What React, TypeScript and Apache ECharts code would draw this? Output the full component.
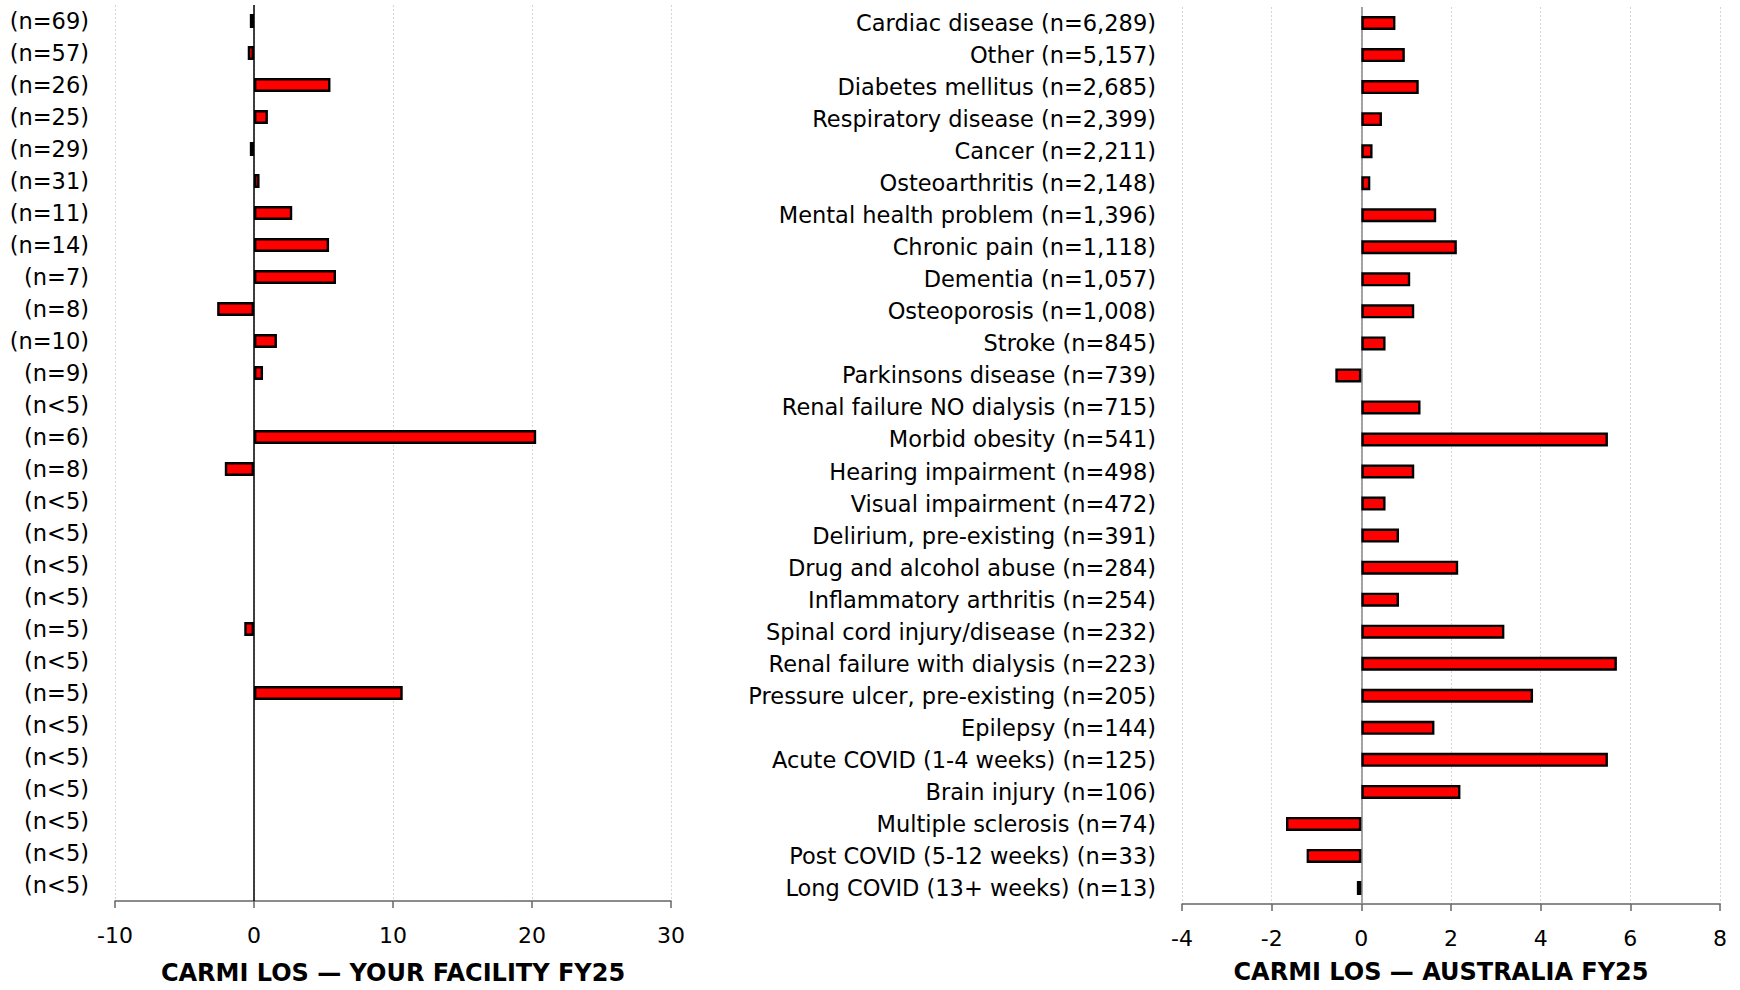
import React, { useEffect, useRef } from "react";
import * as echarts from "echarts";

// Left panel: facility comorbidity counts and CARMI LOS values (null where n<5)
const facilityLabels = [
  "(n=69)", "(n=57)", "(n=26)", "(n=25)", "(n=29)", "(n=31)", "(n=11)",
  "(n=14)", "(n=7)", "(n=8)", "(n=10)", "(n=9)", "(n<5)", "(n=6)",
  "(n=8)", "(n<5)", "(n<5)", "(n<5)", "(n<5)", "(n=5)", "(n<5)",
  "(n=5)", "(n<5)", "(n<5)", "(n<5)", "(n<5)", "(n<5)", "(n<5)",
];
const facilityValues: (number | null)[] = [
  -0.3, -0.45, 5.5, 1.0, -0.3, 0.4, 2.75,
  5.4, 5.9, -2.65, 1.65, 0.65, null, 20.3,
  -2.1, null, null, null, null, -0.7, null,
  10.7, null, null, null, null, null, null,
];

// Right panel: national comorbidity categories and CARMI LOS values
const australiaLabels = [
  "Cardiac disease (n=6,289)",
  "Other (n=5,157)",
  "Diabetes mellitus (n=2,685)",
  "Respiratory disease (n=2,399)",
  "Cancer (n=2,211)",
  "Osteoarthritis (n=2,148)",
  "Mental health problem (n=1,396)",
  "Chronic pain (n=1,118)",
  "Dementia (n=1,057)",
  "Osteoporosis (n=1,008)",
  "Stroke (n=845)",
  "Parkinsons disease (n=739)",
  "Renal failure NO dialysis (n=715)",
  "Morbid obesity (n=541)",
  "Hearing impairment (n=498)",
  "Visual impairment (n=472)",
  "Delirium, pre-existing (n=391)",
  "Drug and alcohol abuse (n=284)",
  "Inflammatory arthritis (n=254)",
  "Spinal cord injury/disease (n=232)",
  "Renal failure with dialysis (n=223)",
  "Pressure ulcer, pre-existing (n=205)",
  "Epilepsy (n=144)",
  "Acute COVID (1-4 weeks) (n=125)",
  "Brain injury (n=106)",
  "Multiple sclerosis (n=74)",
  "Post COVID (5-12 weeks) (n=33)",
  "Long COVID (13+ weeks) (n=13)",
];
const australiaValues = [
  0.76, 0.97, 1.28, 0.46, 0.25, 0.2, 1.67,
  2.13, 1.09, 1.18, 0.54, -0.58, 1.32, 5.5,
  1.18, 0.54, 0.84, 2.16, 0.84, 3.19, 5.7,
  3.83, 1.63, 5.5, 2.21, -1.68, -1.22, -0.1,
];

const facilityTitle = "CARMI LOS \u2014 YOUR FACILITY FY25";
const australiaTitle = "CARMI LOS \u2014 AUSTRALIA FY25";

const FONT = "DejaVu Sans";

function valueAxis(gridIndex: number, min: number, max: number, interval: number, name: string, gap: number, pad: number[]) {
  return {
    type: "value",
    gridIndex,
    min,
    max,
    interval,
    name,
    nameLocation: "middle",
    nameGap: gap,
    nameTextStyle: {
      fontFamily: FONT,
      fontSize: 24,
      fontWeight: "bold",
      color: "#000",
      padding: pad,
    },
    axisLine: { show: true, lineStyle: { color: "#666", width: 1.5 } },
    axisTick: { show: true, length: 7, lineStyle: { color: "#666", width: 1.5 } },
    axisLabel: {
      fontFamily: FONT,
      fontSize: 22,
      color: "#000",
      margin: 23,
    },
    splitLine: { show: true, lineStyle: { color: "#d4d4d4", type: [2, 2], width: 1 } },
  };
}

function categoryAxis(gridIndex: number, data: string[]) {
  return {
    type: "category",
    gridIndex,
    data,
    inverse: true,
    axisLine: { show: false },
    axisTick: { show: false },
    splitLine: { show: false },
    axisLabel: {
      fontFamily: FONT,
      fontSize: 22.5,
      color: "#000",
      margin: 26,
    },
  };
}

function barSeries(index: number, data: (number | null)[], zeroColor: string) {
  return {
    type: "bar",
    xAxisIndex: index,
    yAxisIndex: index,
    data,
    barWidth: 14,
    itemStyle: { color: "#ff0000", borderColor: "#000", borderWidth: 2.4 },
    markLine: {
      silent: true,
      symbol: "none",
      label: { show: false },
      lineStyle: { color: zeroColor, type: "solid", width: 1.5 },
      data: [{ xAxis: 0 }],
      z: 1,
    },
  };
}

export default function App() {
  const ref = useRef<HTMLDivElement>(null);

  useEffect(() => {
    document.body.style.margin = "0";
    if (!ref.current) return;
    const chart = echarts.init(ref.current, null, { renderer: "svg" });
    chart.setOption({
      animation: false,
      backgroundColor: "#fff",
      grid: [
        { left: 115, top: 5, width: 556, height: 896, outerBoundsMode: "none", containLabel: false },
        { left: 1182, top: 7, width: 538, height: 897, outerBoundsMode: "none", containLabel: false },
      ],
      xAxis: [
        valueAxis(0, -10, 30, 10, facilityTitle, 60, [0, 0, 0, 0]),
        valueAxis(1, -4, 8, 2, australiaTitle, 56, [0, 20, 0, 0]),
      ],
      yAxis: [categoryAxis(0, facilityLabels), categoryAxis(1, australiaLabels)],
      series: [
        barSeries(0, facilityValues, "#000"),
        barSeries(1, australiaValues, "#888"),
      ],
    });
    return () => chart.dispose();
  }, []);

  return <div ref={ref} style={{ width: 1740, height: 990 }} />;
}
